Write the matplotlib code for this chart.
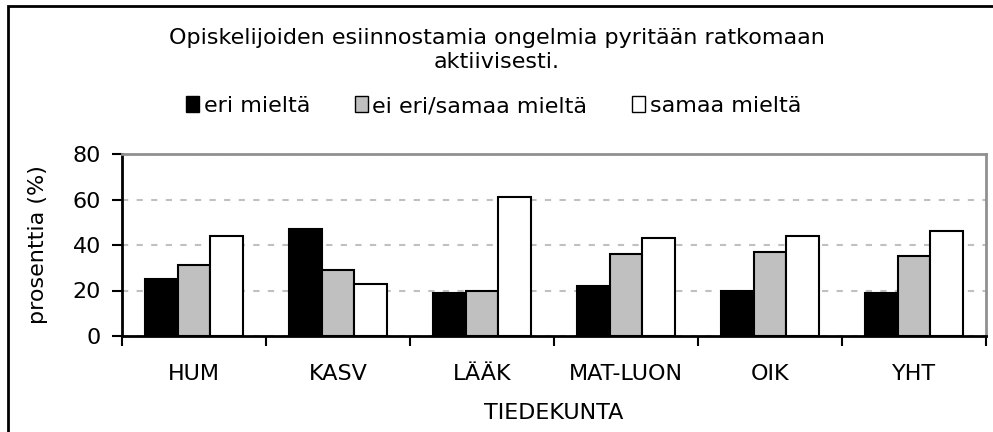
import numpy as np
import matplotlib.pyplot as plt
from matplotlib.patches import Rectangle, Patch

# vastausten jakauma tiedekunnittain (%)
tiedekunnat = ['HUM', 'KASV', 'LÄÄK', 'MAT-LUON', 'OIK', 'YHT']
eri_mielta = [25, 47, 19, 22, 20, 19]
ei_eri_samaa = [31, 29, 20, 36, 37, 35]
samaa_mielta = [44, 23, 61, 43, 44, 46]
sarjat = ['eri mieltä', 'ei eri/samaa mieltä', 'samaa mieltä']
varit = ['black', '#c0c0c0', 'white']

plt.rcParams['font.family'] = 'DejaVu Sans'
FS = 16

W, H = 993, 432
fig = plt.figure(figsize=(W / 100, H / 100), dpi=100)
ax = fig.add_axes([122 / W, 1 - 336 / H, (986 - 122) / W, (336 - 154) / H])

x = np.arange(len(tiedekunnat))
w = 0.226
for i, (arvot, vari) in enumerate(zip([eri_mielta, ei_eri_samaa, samaa_mielta], varit)):
    ax.bar(x + (i - 1) * w, arvot, width=w, color=vari, edgecolor='black',
           linewidth=1.5, zorder=3)

ax.set_xlim(-0.5, len(tiedekunnat) - 0.5)
ax.set_ylim(0, 80)
ax.set_yticks([0, 20, 40, 60, 80])
ax.yaxis.grid(True, linestyle=(0, (3, 4)), color='#c0c0c0', linewidth=1.5, zorder=0)

# x-akselin jakoviivat ryhmien väliin
ax.set_xticks(np.arange(len(tiedekunnat) + 1) - 0.5)
ax.set_xticklabels([])
ax.set_xticks(x, minor=True)
ax.set_xticklabels(tiedekunnat, minor=True)
ax.tick_params(axis='x', which='minor', length=0, pad=20, labelsize=FS)
ax.tick_params(axis='x', which='major', direction='out', length=7, width=1.5)
ax.tick_params(axis='y', direction='out', length=7, width=1.5, labelsize=FS, pad=8)

for s in ['left', 'bottom']:
    ax.spines[s].set_linewidth(2)
    ax.spines[s].set_color('black')
for s in ['top', 'right']:
    ax.spines[s].set_linewidth(2)
    ax.spines[s].set_color('#909090')

ax.set_ylabel('prosenttia (%)', fontsize=FS, labelpad=18)
ax.set_xlabel('TIEDEKUNTA', fontsize=FS, labelpad=14)

fig.text(0.5, 1 - 50 / H, 'Opiskelijoiden esiinnostamia ongelmia pyritään ratkomaan\naktiivisesti.',
         ha='center', va='center', fontsize=FS, linespacing=1.3)

kahvat = [Patch(facecolor=c, edgecolor='black', linewidth=1) for c in varit]
fig.legend(kahvat, sarjat, loc='center', bbox_to_anchor=(0.497, 1 - 106 / H), ncol=3,
           frameon=False, fontsize=FS, handlelength=0.6, handleheight=0.75,
           handletextpad=0.2, columnspacing=2.0)

# kehys koko kuvion ympärillä
fig.patches.append(Rectangle((8 / W, -0.05), 1.1, 1 - 6 / H + 0.05, transform=fig.transFigure,
                             fill=False, edgecolor='black', linewidth=2))

fig.savefig('out.png', dpi=100)
